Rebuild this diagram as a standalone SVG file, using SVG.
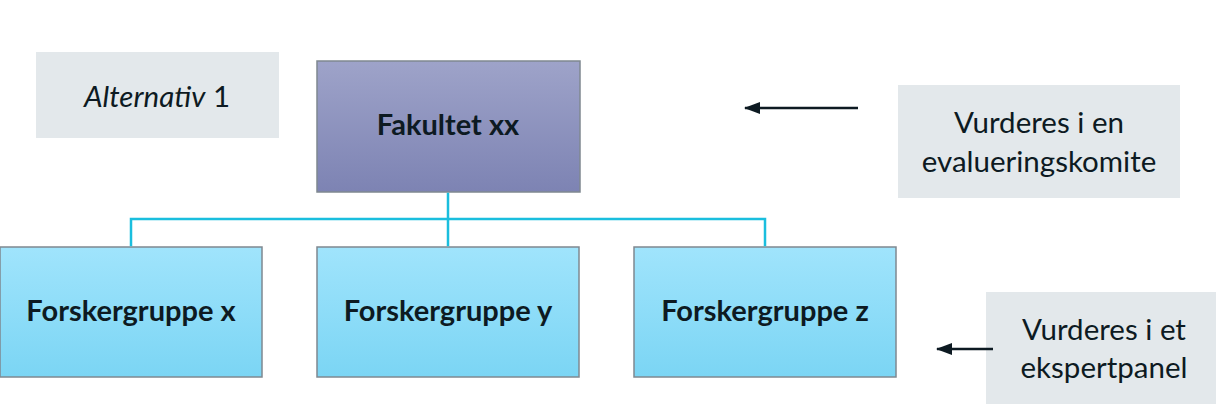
<svg xmlns="http://www.w3.org/2000/svg" width="1216" height="411" viewBox="0 0 1216 411">
<defs>
<linearGradient id="gFak" x1="0" y1="0" x2="0" y2="1"><stop offset="0" stop-color="#9EA3C9"/><stop offset="1" stop-color="#7D83B3"/></linearGradient>
<linearGradient id="gGrp" x1="0" y1="0" x2="0" y2="1"><stop offset="0" stop-color="#A0E4FC"/><stop offset="1" stop-color="#7BD5F4"/></linearGradient>
<marker id="arr" markerWidth="16" markerHeight="12" refX="15" refY="6" orient="auto" markerUnits="userSpaceOnUse"><path d="M0,0 L16,6 L0,12 z" fill="#0D1A22"/></marker>
<style>
.box{stroke:#7F8890;stroke-width:1.5}
.note{fill:#E3E8EB}
.b{font-family:Lato,"Open Sans","Liberation Sans",sans-serif;font-weight:bold;font-size:29px;fill:#0D1A22;text-anchor:middle}
.r{font-family:Lato,"Open Sans","Liberation Sans",sans-serif;font-size:29.5px;fill:#0D1A22;text-anchor:middle}
.con{stroke:#1ABEDE;stroke-width:2.5;fill:none}
.arrow{stroke:#0D1A22;stroke-width:2.5;fill:none;marker-end:url(#arr)}
</style>
</defs>
<rect width="1216" height="411" fill="#FFFFFF"/>
<g id="alternativ">
<rect class="note" x="36" y="52" width="243" height="86"/>
<text class="r" x="157" y="107" font-size="30.5"><tspan font-style="italic">Alternativ</tspan> 1</text>
</g>
<g id="fakultet">
<rect class="box" x="317" y="61" width="263" height="131" fill="url(#gFak)"/>
<text class="b" x="448" y="135">Fakultet xx</text>
</g>
<g id="gruppe-x">
<rect class="box" x="0" y="247" width="262" height="130" fill="url(#gGrp)"/>
<text class="b" x="131" y="321">Forskergruppe x</text>
</g>
<g id="gruppe-y">
<rect class="box" x="317" y="247" width="262" height="130" fill="url(#gGrp)"/>
<text class="b" x="448" y="321">Forskergruppe y</text>
</g>
<g id="gruppe-z">
<rect class="box" x="634" y="247" width="262" height="130" fill="url(#gGrp)"/>
<text class="b" x="765" y="321">Forskergruppe z</text>
</g>
<g id="evaluering">
<rect class="note" x="898" y="85" width="282" height="113"/>
<text class="r" x="1039" y="133">Vurderes i en</text>
<text class="r" x="1039" y="172">evalueringskomite</text>
</g>
<g id="ekspertpanel">
<rect class="note" x="986" y="292" width="230" height="112"/>
<text class="r" x="1104" y="340">Vurderes i et</text>
<text class="r" x="1104" y="378">ekspertpanel</text>
</g>
<g id="connectors">
<path class="con" d="M448,192.75 V246.25 M131,246.25 V219 H765 V246.25"/>
<line class="arrow" x1="858" y1="108" x2="745" y2="108"/>
<line class="arrow" x1="993" y1="349" x2="937" y2="349"/>
</g>
</svg>
